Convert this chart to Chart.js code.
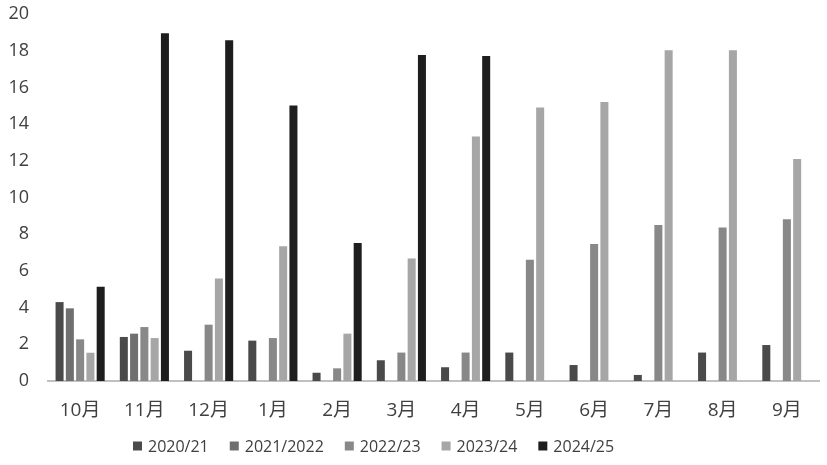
<!DOCTYPE html>
<html>
<head>
<meta charset="utf-8">
<script src="https://cdn.jsdelivr.net/npm/chart.js@4/dist/chart.umd.min.js"></script>
<style>
html,body{margin:0;padding:0;background:#fff;}
#wrap{width:827px;height:465px;}
</style>
</head>
<body>
<div id="wrap"><canvas id="c"></canvas></div>
<script>
const categories = ['10月','11月','12月','1月','2月','3月','4月','5月','6月','7月','8月','9月'];
const seriesNames = ['2020/21','2021/2022','2022/23','2023/24','2024/25'];
const s2020 = [4.3, 2.4, 1.65, 2.2, 0.45, 1.13, 0.75, 1.55, 0.87, 0.33, 1.55, 1.96];
const s2021 = [3.96, 2.58, 0, 0, 0, 0, 0, 0, 0, 0, 0, 0];
const s2022 = [2.27, 2.94, 3.07, 2.34, 0.69, 1.55, 1.55, 6.61, 7.47, 8.5, 8.37, 8.81];
const s2023 = [1.54, 2.34, 5.58, 7.34, 2.58, 6.67, 13.33, 14.91, 15.2, 18.02, 18.02, 12.1];
const s2024 = [5.14, 18.95, 18.57, 15.02, 7.52, 17.77, 17.71, null, null, null, null, null];
const yTicks = [0,2,4,6,8,10,12,14,16,18,20];
const colors = ['#4a4a4a','#6f6f6f','#888888','#a6a6a6','#1e1e1e'];
const allSeries = [s2020, s2021, s2022, s2023, s2024];

const fam = "'Open Sans','Noto Sans CJK SC',sans-serif";

// legend drawn along the bottom, from the datasets' own labels and colours
const bottomLegend = {
  id: 'bottomLegend',
  afterDraw(chart) {
    const ctx = chart.ctx;
    const y = 446, box = 9, gapText = 6, gapItem = 21;
    ctx.save();
    ctx.font = '16px ' + fam;
    ctx.textBaseline = 'middle';
    ctx.textAlign = 'left';
    let x = 133;
    chart.data.datasets.forEach(ds => {
      const w = ctx.measureText(ds.label).width;
      ctx.fillStyle = ds.backgroundColor;
      ctx.fillRect(x, y - box / 2, box, box);
      ctx.fillStyle = '#404040';
      ctx.fillText(ds.label, x + box + gapText, y + 1);
      x += box + gapText + w + gapItem;
    });
    ctx.restore();
  }
};

new Chart(document.getElementById('c'), {
  type: 'bar',
  data: {
    labels: categories,
    datasets: allSeries.map((d, i) => ({
      label: seriesNames[i],
      data: d,
      backgroundColor: colors[i],
      borderColor: colors[i],
      borderWidth: 0,
      barPercentage: 0.78,
      categoryPercentage: 0.8
    }))
  },
  options: {
    responsive: true,
    maintainAspectRatio: false,
    animation: false,
    devicePixelRatio: 1,
    layout: {padding: {left: 0, right: 8, top: 0, bottom: 44}},
    plugins: {
      legend: {display: false},
      tooltip: {enabled: false}
    },
    scales: {
      x: {
        grid: {display: false, drawTicks: false},
        border: {color: '#c0c0c0', width: 2},
        ticks: {color: '#404040', font: {family: fam, size: 19}, padding: 18},
        afterFit: (ax) => { ax.height = 40; }
      },
      y: {
        min: 0, max: 20,
        afterBuildTicks: (ax) => { ax.ticks = yTicks.map(v => ({value: v})); },
        afterFit: (ax) => { ax.width = 48; ax.paddingTop = 14; },
        grid: {display: false, drawTicks: false},
        border: {display: false},
        ticks: {color: '#404040', font: {family: fam, size: 18}, padding: 19}
      }
    }
  },
  plugins: [bottomLegend]
});
</script>
</body>
</html>
